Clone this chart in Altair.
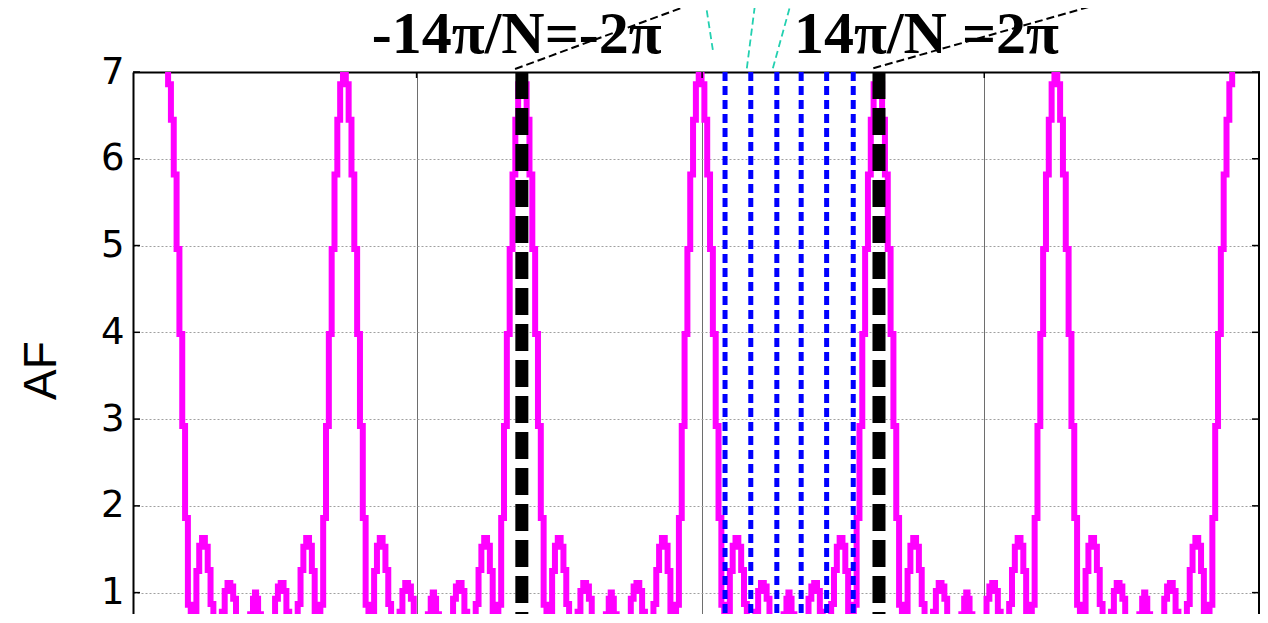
import altair as alt
import pandas as pd

# ---- data (psi in radians, AF values) ----
lobe_centers = [-18.85, -12.57, -6.28, 0.0, 6.28, 12.57, 18.85]
half_offsets = [0.0, 0.1, 0.2, 0.3, 0.4, 0.5, 0.6, 0.7, 0.8, 0.9,
                1.0, 1.1, 1.2, 1.3, 1.4, 1.5, 1.6, 1.7, 1.8, 1.9,
                2.0, 2.1, 2.2, 2.3, 2.4, 2.5, 2.6, 2.7, 2.8, 2.9,
                3.0, 3.1]
half_af = [7.0, 6.86, 6.45, 5.82, 4.96, 3.98, 2.92, 1.86, 0.86, 0.02,
           0.73, 1.25, 1.54, 1.63, 1.53, 1.26, 0.87, 0.42, 0.05, 0.42,
           0.78, 1.02, 1.11, 1.07, 0.93, 0.70, 0.42, 0.10, 0.20, 0.50,
           0.75, 0.93]
mid_af = 1.0

null_lines = [0.88, 1.79, 2.71, 3.57, 4.47, 5.41]
edge_lines = [-6.30, 6.32]
grid_x = [-10.02, 0.07, 10.04]
y_ticks = [1, 2, 3, 4, 5, 6, 7]

label_text = ["-14π/N=-2π", "14π/N =2π"]
label_x = [-6.48, 8.0]
label_y = [7.22, 7.22]

ann_black_x = [-6.54, 6.12]
ann_black_y = [7.035, 7.043]
ann_black_x2 = [0.106, 14.6]
ann_black_y2 = [7.83, 7.83]

ann_teal_x = [0.449, 1.65, 2.57]
ann_teal_y = [7.254, 7.043, 7.043]
ann_teal_x2 = [0.177, 1.96, 3.24]
ann_teal_y2 = [7.83, 7.83, 7.83]

PX_PER_X = 28.3
PX_PER_Y = 86.77
W, H = 1127, 542
X_DOMAIN = [-20.04, -20.04 + W / PX_PER_X]
Y_DOMAIN = [7 - H / PX_PER_Y, 7]

# ---- build the curve from the read half-period ----
rows = []
for i in range(len(lobe_centers) - 1):
    c0, c1 = lobe_centers[i], lobe_centers[i + 1]
    for off, v in zip(half_offsets, half_af):
        rows.append((c0 + off, v))
    rows.append(((c0 + c1) / 2, mid_af))
    for off, v in reversed(list(zip(half_offsets[1:], half_af[1:]))):
        rows.append((c1 - off, v))
rows.append((lobe_centers[-1], half_af[0]))
curve = pd.DataFrame(rows, columns=["psi", "af"])

xs = alt.Scale(domain=X_DOMAIN, nice=False, zero=False)
ys = alt.Scale(domain=Y_DOMAIN, nice=False, zero=False)

base_x_axis = alt.Axis(orient="top", values=grid_x, labels=False, ticks=False,
                       domain=True, domainColor="black", domainWidth=2,
                       grid=True, gridColor="#6e6e6e", gridWidth=1, title=None)
y_axis = alt.Axis(values=y_ticks, format="d", ticks=False, domain=True,
                  domainColor="black", domainWidth=2, grid=True,
                  gridColor="#a0a0a0", gridDash=[2, 2], gridWidth=1,
                  labelFont="DejaVu Sans", labelFontSize=37,
                  labelColor="black", labelPadding=9, labelOverlap=False,
                  labelFlush=False, title="AF", titleFont="Liberation Sans",
                  titleFontSize=46, titleFontWeight="normal", titleColor="black",
                  titleAngle=-90, titleX=-92, titleY=298, titleAlign="center",
                  titleBaseline="middle")

line = alt.Chart(curve).mark_line(
    color="#ff00ff", strokeWidth=6, interpolate="step", clip=True
).encode(
    x=alt.X("psi:Q", scale=xs, axis=base_x_axis),
    y=alt.Y("af:Q", scale=ys, axis=y_axis),
)

blue = alt.Chart(pd.DataFrame({"x": null_lines, "y": [7] * len(null_lines),
                               "y2": [Y_DOMAIN[0]] * len(null_lines)})).mark_rule(
    color="#0000ff", strokeWidth=5, strokeDash=[9, 5]
).encode(x=alt.X("x:Q", scale=xs), y=alt.Y("y:Q", scale=ys), y2="y2:Q")

black = alt.Chart(pd.DataFrame({"x": edge_lines, "y": [7] * 2,
                                "y2": [Y_DOMAIN[0]] * 2})).mark_rule(
    color="black", strokeWidth=13, strokeDash=[27, 9]
).encode(x=alt.X("x:Q", scale=xs), y=alt.Y("y:Q", scale=ys), y2="y2:Q")

ann_b = alt.Chart(pd.DataFrame({"x": ann_black_x, "y": ann_black_y,
                                "x2": ann_black_x2, "y2": ann_black_y2})).mark_rule(
    color="black", strokeWidth=2, strokeDash=[8, 4]
).encode(x=alt.X("x:Q", scale=xs), y=alt.Y("y:Q", scale=ys), x2="x2:Q", y2="y2:Q")

ann_t = alt.Chart(pd.DataFrame({"x": ann_teal_x, "y": ann_teal_y,
                                "x2": ann_teal_x2, "y2": ann_teal_y2})).mark_rule(
    color="#22d0b0", strokeWidth=1.8, strokeDash=[7, 4]
).encode(x=alt.X("x:Q", scale=xs), y=alt.Y("y:Q", scale=ys), x2="x2:Q", y2="y2:Q")

texts = alt.Chart(pd.DataFrame({"t": label_text, "x": label_x, "y": label_y})).mark_text(
    font="Liberation Serif", fontWeight="bold", fontSize=60, color="black",
    align="center", baseline="alphabetic"
).encode(x=alt.X("x:Q", scale=xs), y=alt.Y("y:Q", scale=ys), text="t:N")

left_ticks = alt.Chart(pd.DataFrame({"y": y_ticks})).mark_rule(
    color="black", strokeWidth=1.5
).encode(x=alt.value(0), x2=alt.value(7), y=alt.Y("y:Q", scale=ys))

right_ticks = alt.Chart(pd.DataFrame({"y": y_ticks})).mark_rule(
    color="black", strokeWidth=1.5
).encode(x=alt.value(W - 8), x2=alt.value(W), y=alt.Y("y:Q", scale=ys))

top_ticks = alt.Chart(pd.DataFrame({"x": grid_x})).mark_rule(
    color="black", strokeWidth=1.5
).encode(x=alt.X("x:Q", scale=xs), y=alt.value(0), y2=alt.value(6))

right_border = alt.Chart(pd.DataFrame({"y": [7]})).mark_rule(
    color="black", strokeWidth=2
).encode(x=alt.value(W - 1), y=alt.value(0), y2=alt.value(H))

chart = alt.layer(
    line, blue, black, ann_b, ann_t, texts, left_ticks, right_ticks, top_ticks,
    right_border
).properties(
    width=W, height=H,
    autosize=alt.AutoSizeParams(type="none"),
    padding={"left": 125, "top": 64, "right": 0, "bottom": 0},
).configure_view(stroke=None).configure(background="white")

chart.save("out.html", embed_options={"renderer": "svg", "actions": False})
